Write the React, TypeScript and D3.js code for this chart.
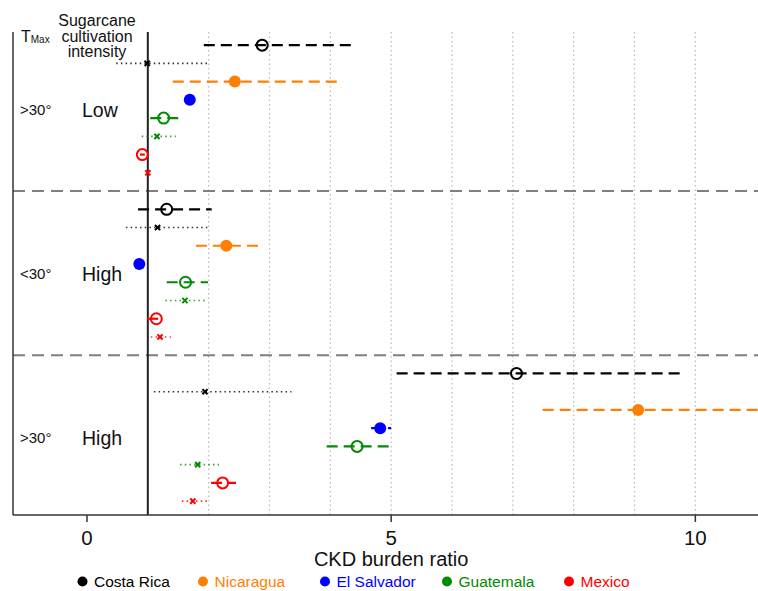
import React from 'react';
import * as d3 from 'd3';

const countries = ['Costa Rica', 'Nicaragua', 'El Salvador', 'Guatemala', 'Mexico'];
const countryColors = ['#000000', '#FF7F00', '#0000FF', '#008B00', '#FF0000'];
const rowCountry = [0, 0, 1, 2, 3, 3, 4, 4];
const rowMarker = ['open', 'x', 'filled', 'filled', 'open', 'x', 'open', 'x'];

const groupTemp = ['>30°', '<30°', '>30°'];
const groupIntensity = ['Low', 'High', 'High'];

const estLowHot = [2.88, 0.99, 2.43, 1.69, 1.26, 1.15, 0.91, 1.0];
const loLowHot = [1.92, 0.48, 1.41, 1.62, 1.04, 0.9, 0.87, 0.97];
const hiLowHot = [4.37, 1.99, 4.15, 1.76, 1.51, 1.46, 0.95, 1.03];

const estHighCool = [1.31, 1.16, 2.29, 0.86, 1.62, 1.61, 1.14, 1.2];
const loHighCool = [0.84, 0.64, 1.79, 0.8, 1.31, 1.29, 0.99, 1.05];
const hiHighCool = [2.05, 2.02, 2.84, 0.92, 1.99, 1.94, 1.23, 1.38];

const estHighHot = [7.06, 1.94, 9.06, 4.82, 4.44, 1.82, 2.23, 1.74];
const loHighHot = [5.09, 1.1, 7.49, 4.67, 3.94, 1.53, 2.04, 1.56];
const hiHighHot = [9.8, 3.36, 11.2, 5.0, 4.99, 2.17, 2.45, 1.97];

const groupEst = [estLowHot, estHighCool, estHighHot];
const groupLo = [loLowHot, loHighCool, loHighHot];
const groupHi = [hiLowHot, hiHighCool, hiHighHot];

const gridValues = [2, 3, 4, 5, 6, 7, 8, 9, 10];
const tickValues = [0, 5, 10];
const refValue = 1;
const xLabel = 'CKD burden ratio';

const W = 758;
const H = 591;
const FONT = '"Liberation Sans", Arial, sans-serif';

export default function App() {
  const left = 13, right = 758, top = 32, bottom = 515;
  const x = d3.scaleLinear().domain([-1.216, 11.03]).range([left, right]);
  const y = d3.scaleLinear().domain([-0.72, 25.76]).range([top, bottom]);
  const rowsPerGroup = 8;
  const slot = (g: number, r: number) => g * (rowsPerGroup + 1) + r;

  const marks: React.ReactNode[] = [];
  groupEst.forEach((est, g) => {
    est.forEach((v, r) => {
      const c = countryColors[rowCountry[r]];
      const m = rowMarker[r];
      const yy = y(slot(g, r));
      const lo = groupLo[g][r];
      const hi = groupHi[g][r];
      const isX = m === 'x';
      marks.push(
        <line key={`ci${g}-${r}`} x1={x(lo)} x2={x(hi)} y1={yy} y2={yy}
          stroke={c} strokeWidth={isX ? 1.6 : 2.2}
          strokeDasharray={isX ? '1.5,3.2' : '11,6'}
          opacity={isX ? 0.8 : 1} />
      );
      if (m === 'open') {
        marks.push(<circle key={`m${g}-${r}`} cx={x(v)} cy={yy} r={5.5} fill="none" stroke={c} strokeWidth={2} />);
      } else if (m === 'filled') {
        marks.push(<circle key={`m${g}-${r}`} cx={x(v)} cy={yy} r={6} fill={c} stroke="none" />);
      } else {
        const s = 2.6;
        marks.push(
          <g key={`m${g}-${r}`} stroke={c} strokeWidth={2}>
            <line x1={x(v) - s} x2={x(v) + s} y1={yy - s} y2={yy + s} />
            <line x1={x(v) - s} x2={x(v) + s} y1={yy + s} y2={yy - s} />
          </g>
        );
      }
    });
  });

  const separators = [1, 2].map((g) => y(slot(g, 0) - 1));
  const groupCenters = [0, 1, 2].map((g) => y(slot(g, 0) + 3.5));

  const legendX = [82.5, 203, 325, 447, 569];

  return (
    <svg width={W} height={H} style={{ position: 'absolute', left: 0, top: 0, background: '#fff' }} fontFamily={FONT}>
      <defs>
        <clipPath id="plotclip">
          <rect x={left} y={top} width={right - left} height={bottom - top} />
        </clipPath>
      </defs>
      {gridValues.map((v) => (
        <line key={`g${v}`} x1={x(v)} x2={x(v)} y1={top} y2={bottom} stroke="#bdbdbd" strokeWidth={1.3} strokeDasharray="1.5,3" />
      ))}
      {separators.map((s, i) => (
        <line key={`s${i}`} x1={left} x2={right} y1={s} y2={s} stroke="#7f7f7f" strokeWidth={2} strokeDasharray="12,7" />
      ))}
      <line x1={x(refValue)} x2={x(refValue)} y1={top} y2={bottom} stroke="#222" strokeWidth={2} />
      <line x1={left} x2={left} y1={top} y2={bottom} stroke="#333" strokeWidth={1.5} />
      <line x1={left} x2={right} y1={bottom} y2={bottom} stroke="#333" strokeWidth={1.5} />
      <g clipPath="url(#plotclip)">{marks}</g>
      {tickValues.map((v) => (
        <g key={`t${v}`}>
          <line x1={x(v)} x2={x(v)} y1={bottom} y2={bottom + 7} stroke="#333" strokeWidth={1.5} />
          <text x={x(v)} y={545} fontSize={20.5} textAnchor="middle" fill="#111">{v}</text>
        </g>
      ))}
      <text x={x(5)} y={566} fontSize={20} textAnchor="middle" fill="#111">{xLabel}</text>
      <text x={21} y={42} fontSize={16} fill="#111">T<tspan fontSize={10} dy={1}>Max</tspan></text>
      <text x={97} y={26} fontSize={16} textAnchor="middle" fill="#111">Sugarcane</text>
      <text x={97} y={41.5} fontSize={16} textAnchor="middle" fill="#111">cultivation</text>
      <text x={97} y={57} fontSize={16} textAnchor="middle" fill="#111">intensity</text>
      {groupTemp.map((t, g) => (
        <g key={`gl${g}`}>
          <text x={20} y={groupCenters[g] + 6} fontSize={15} fill="#111">{t}</text>
          <text x={82} y={groupCenters[g] + 8} fontSize={19.5} fill="#111">{groupIntensity[g]}</text>
        </g>
      ))}
      {countries.map((c, i) => (
        <g key={`l${i}`}>
          <circle cx={legendX[i]} cy={581.5} r={5} fill={countryColors[i]} />
          <text x={legendX[i] + 11.5} y={587} fontSize={15.5} fill={countryColors[i]}>{c}</text>
        </g>
      ))}
    </svg>
  );
}
